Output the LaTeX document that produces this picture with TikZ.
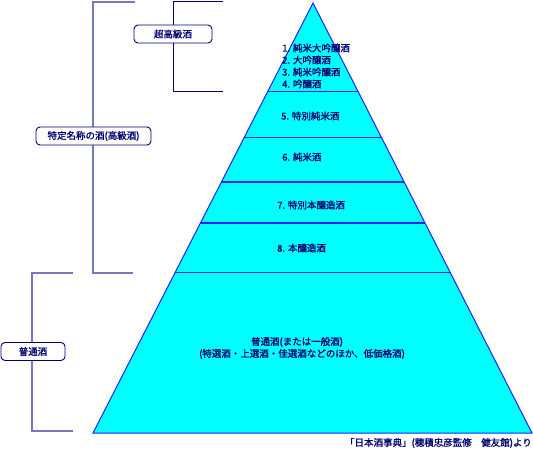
\documentclass[tikz,border=0pt]{standalone}
\usepackage{fontspec}
\setmainfont{Noto Sans CJK JP}[FakeBold=1.2]
\usetikzlibrary{calc}
\begin{document}
\begin{tikzpicture}[x=1pt,y=-1pt,
  txt/.style={text=navytxt,font=\fontsize{9.5}{11}\selectfont,inner sep=0pt},
  lbl/.style={draw=navytxt,fill=white,rounded corners=4pt,line width=0.9pt,text=navytxt,font=\fontsize{9.5}{11}\selectfont,inner sep=0pt,minimum height=18pt},
  tier/.style={draw=tierblue,line width=0.9pt},
  lbrk/.style={draw=lightbrk,line width=1.2pt},
  dbrk/.style={draw=navytxt,line width=1pt}]
\definecolor{navytxt}{HTML}{000070}
\definecolor{tierblue}{HTML}{2020F0}
\definecolor{lightbrk}{HTML}{7878BC}
\definecolor{cyanfill}{HTML}{00FFFF}
\useasboundingbox (0,0) rectangle (533,452);
% triangle
\coordinate (apex) at (313,3);
\coordinate (bl) at (93,433);
\coordinate (br) at (532,433);
\filldraw[fill=cyanfill,draw=tierblue,line width=1pt] (apex) -- (bl) -- (br) -- cycle;
% tier lines
\foreach \t/\w in {0.2047/0.9pt,0.3116/0.9pt,0.4163/1.2pt,0.5116/1.8pt,0.6256/0.9pt}{
  \draw[tier,line width=\w] ($(apex)!\t!(bl)$) -- ($(apex)!\t!(br)$);
}
% tier texts
\node[txt,anchor=west] (t1) at (282,48) {1. 純米大吟醸酒};
\node[txt,anchor=west] (t2) at (282,60) {2. 大吟醸酒};
\node[txt,anchor=west] (t3) at (282,72) {3. 純米吟醸酒};
\node[txt,anchor=west] (t4) at (282,84) {4. 吟醸酒};
\node[txt,anchor=west] (t5) at (281,116) {5. 特別純米酒};
\node[txt,anchor=west] (t6) at (282,157) {6. 純米酒};
\node[txt,anchor=west] (t7) at (277,205) {7. 特別本醸造酒};
\node[txt,anchor=west] (t8) at (277,248) {8. 本醸造酒};
\node[txt,anchor=center] (f1) at (297,342) {普通酒(または一般酒)};
\node[txt,anchor=center] (f2) at (302,354) {(特選酒・上選酒・佳選酒などのほか、低価格酒)};
% brackets
\coordinate (s1) at (223,2);
\coordinate (s2) at (173,2);
\coordinate (s3) at (173,92);
\coordinate (s4) at (223,92);
\draw[dbrk] (s1) -- (s2) -- (s3) -- (s4);
\coordinate (k1) at (135,2);
\coordinate (k2) at (93,2);
\coordinate (k3) at (93,273);
\coordinate (k4) at (133,273);
\draw[lbrk] (k1) -- (k2) -- (k3) -- (k4);
\coordinate (f1a) at (73,273);
\coordinate (f2a) at (32,273);
\coordinate (f3a) at (32,431);
\coordinate (f4a) at (73,431);
\draw[lbrk] (f1a) -- (f2a) -- (f3a) -- (f4a);
% labels
\node[lbl,minimum width=78pt] (super) at (173,34) {超高級酒};
\node[lbl,minimum width=115pt] (tokutei) at (93.5,136) {特定名称の酒(高級酒)};
\node[lbl,minimum width=64pt] (futsu) at (33,351.5) {普通酒};
% source
\node[txt,anchor=east] (src) at (532,443) {「日本酒事典」(穂積忠彦監修　健友館)より};
\end{tikzpicture}
\end{document}
